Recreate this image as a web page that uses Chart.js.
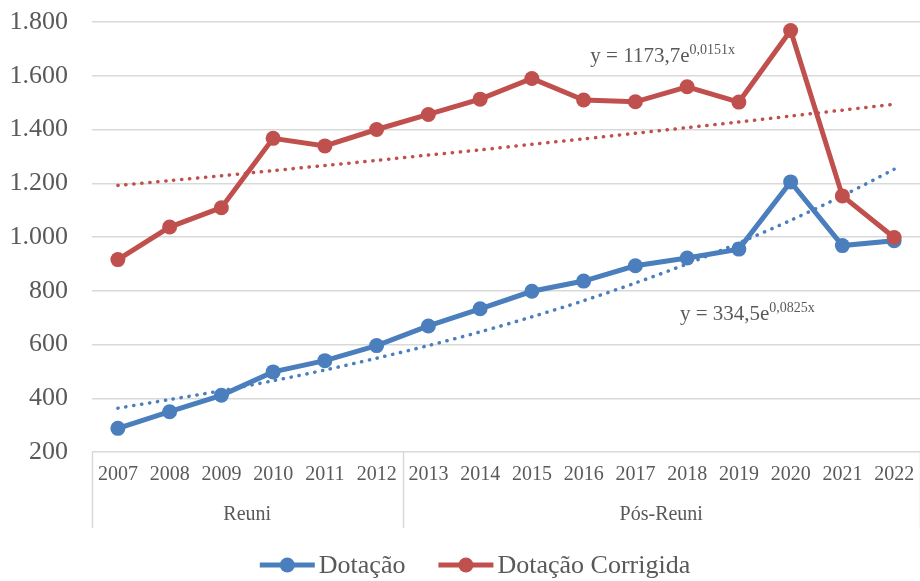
<!DOCTYPE html>
<html lang="pt">
<head>
    <meta charset="UTF-8">
    <title>Dotação</title>
    <script src="https://cdn.jsdelivr.net/npm/chart.js@4.4.0/dist/chart.umd.min.js"></script>
    <style>
        body {
            margin: 0;
            background: #ffffff;
        }
        #wrap {
            width: 920px;
            height: 581px;
        }
    </style>
</head>
<body>
    <div id="wrap">
        <canvas id="chart" width="920" height="581"></canvas>
    </div>

    <script>
        const years = ['2007', '2008', '2009', '2010', '2011', '2012', '2013', '2014',
                       '2015', '2016', '2017', '2018', '2019', '2020', '2021', '2022'];
        const groups = ['Reuni', 'Pós-Reuni'];
        const groupSizes = [6, 10];

        const dotacao = [288, 350, 411, 498, 540, 596, 669, 733, 798, 836, 893, 922, 955, 1205, 968, 986];
        const dotacaoCorrigida = [916, 1037, 1109, 1367, 1339, 1400, 1456, 1513, 1590, 1510, 1503, 1559, 1502, 1768, 1153, 998];

        // exponential trendlines as drawn
        const trendDotacao = [363, 395, 428, 465, 505, 549, 596, 647, 703, 763, 829, 900, 978, 1062, 1153, 1252];
        const trendCorrigida = [1192, 1210, 1228, 1247, 1266, 1285, 1305, 1324, 1345, 1365, 1386, 1407, 1428, 1450, 1472, 1494];

        const seriesNames = ['Dotação', 'Dotação Corrigida'];
        const trendText = ['y = 334,5e', 'y = 1173,7e'];
        const trendExp = ['0,0825x', '0,0151x'];

        const BLUE = '#4a7ebd';
        const RED = '#c0504d';
        const GREY_TEXT = '#595959';
        const GRID = '#d9d9d9';
        const FONT = "'Liberation Serif', 'Times New Roman', serif";

        function fmt(v) {
            return String(v).replace(/\B(?=(\d{3})+(?!\d))/g, '.');
        }

        const extras = {
            id: 'extras',
            afterDraw(chart) {
                const ctx = chart.ctx;
                const xs = chart.scales.x;
                const ys = chart.scales.y;
                const step = xs.getPixelForValue(1) - xs.getPixelForValue(0);
                const top = chart.chartArea.bottom;

                // group separators and labels
                ctx.save();
                ctx.strokeStyle = GRID;
                ctx.lineWidth = 1.5;
                let start = 0;
                const edges = [0];
                groupSizes.forEach(n => { start += n; edges.push(start); });
                edges.forEach(i => {
                    const x = Math.round(xs.getPixelForValue(i) - step / 2) + 0.5;
                    ctx.beginPath();
                    ctx.moveTo(x, top);
                    ctx.lineTo(x, top + 76);
                    ctx.stroke();
                });
                ctx.fillStyle = GREY_TEXT;
                ctx.font = '20px ' + FONT;
                ctx.textAlign = 'center';
                ctx.textBaseline = 'middle';
                groups.forEach((g, k) => {
                    const a = xs.getPixelForValue(edges[k]) - step / 2;
                    const b = xs.getPixelForValue(edges[k + 1]) - step / 2;
                    ctx.fillText(g, (a + b) / 2, top + 63);
                });

                // trendline equations
                const eqPos = [[10.86, 691], [9.13, 1652]];
                ctx.textAlign = 'left';
                ctx.textBaseline = 'alphabetic';
                trendText.forEach((t, k) => {
                    const x = xs.getPixelForValue(eqPos[k][0]);
                    const y = ys.getPixelForValue(eqPos[k][1]);
                    ctx.font = '21px ' + FONT;
                    ctx.fillText(t, x, y);
                    const w = ctx.measureText(t).width;
                    ctx.font = '14px ' + FONT;
                    ctx.fillText(trendExp[k], x + w, y - 8);
                });

                // legend
                ctx.font = '26px ' + FONT;
                const colors = [BLUE, RED];
                const lineLen = 55, gap = 33, textGap = 4;
                const widths = seriesNames.map(s => lineLen + textGap + ctx.measureText(s).width);
                const total = widths[0] + widths[1] + gap;
                let lx = 475 - total / 2;
                const ly = 565;
                ctx.textBaseline = 'middle';
                seriesNames.forEach((s, k) => {
                    ctx.strokeStyle = colors[k];
                    ctx.fillStyle = colors[k];
                    ctx.lineWidth = 5;
                    ctx.beginPath();
                    ctx.moveTo(lx, ly);
                    ctx.lineTo(lx + lineLen, ly);
                    ctx.stroke();
                    ctx.beginPath();
                    ctx.arc(lx + lineLen / 2, ly, 7.5, 0, Math.PI * 2);
                    ctx.fill();
                    ctx.fillStyle = GREY_TEXT;
                    ctx.fillText(s, lx + lineLen + textGap, ly + 1);
                    lx += widths[k] + gap;
                });
                ctx.restore();
            }
        };

        const trendStyle = {
            borderWidth: 3.5,
            borderDash: [0.3, 7.7],
            borderCapStyle: 'round',
            pointRadius: 0,
            tension: 0.3,
            fill: false
        };

        new Chart(document.getElementById('chart'), {
            type: 'line',
            data: {
                labels: years,
                datasets: [
                    {
                        label: seriesNames[1],
                        data: dotacaoCorrigida,
                        borderColor: RED,
                        backgroundColor: RED,
                        borderWidth: 5,
                        pointRadius: 7.5,
                        pointBorderWidth: 0,
                        order: 0
                    },
                    {
                        label: seriesNames[0],
                        data: dotacao,
                        borderColor: BLUE,
                        backgroundColor: BLUE,
                        borderWidth: 5,
                        pointRadius: 7.5,
                        pointBorderWidth: 0,
                        order: 1
                    },
                    Object.assign({ label: 'Exp. (Dotação Corrigida)', data: trendCorrigida, borderColor: RED, order: 2 }, trendStyle),
                    Object.assign({ label: 'Exp. (Dotação)', data: trendDotacao, borderColor: BLUE, order: 3 }, trendStyle)
                ]
            },
            options: {
                responsive: false,
                animation: false,
                layout: {
                    autoPadding: false,
                    padding: { top: 22, left: 0, right: 0, bottom: 54 }
                },
                plugins: {
                    legend: { display: false },
                    tooltip: { enabled: false }
                },
                scales: {
                    x: {
                        offset: true,
                        grid: { display: false, drawTicks: false },
                        border: { display: false },
                        ticks: {
                            autoSkip: false,
                            maxRotation: 0,
                            padding: 11,
                            color: GREY_TEXT,
                            font: { family: FONT, size: 20 }
                        },
                        afterFit(scale) {
                            scale.height = 75;
                            scale.paddingLeft = 0;
                            scale.paddingRight = 0;
                        }
                    },
                    y: {
                        min: 200,
                        max: 1800,
                        grid: { color: GRID, lineWidth: 1.5, drawTicks: false },
                        border: { display: false },
                        ticks: {
                            stepSize: 200,
                            padding: 24,
                            color: GREY_TEXT,
                            font: { family: FONT, size: 26 },
                            callback: v => fmt(v)
                        },
                        afterFit(scale) {
                            scale.width = 92;
                            scale.paddingTop = 0;
                            scale.paddingBottom = 0;
                        }
                    }
                }
            },
            plugins: [extras]
        });
    </script>
</body>
</html>
